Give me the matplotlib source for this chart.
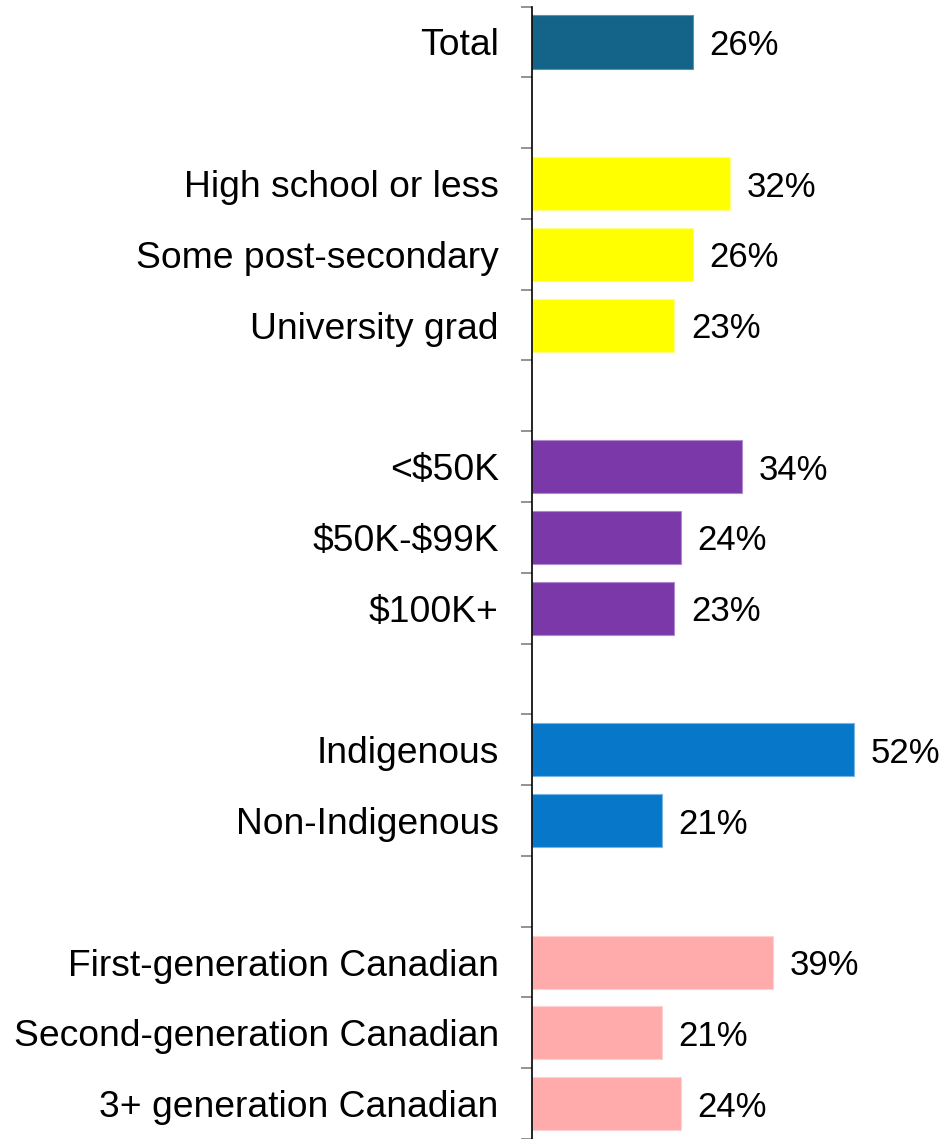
import matplotlib.pyplot as plt
import numpy as np

plt.rcParams['font.family'] = ['Liberation Sans', 'DejaVu Sans']
plt.rcParams['text.parse_math'] = False

# Data (None = blank gap row between groups)
labels = ['Total', None,
          'High school or less', 'Some post-secondary', 'University grad', None,
          '<$50K', '$50K-$99K', '$100K+', None,
          'Indigenous', 'Non-Indigenous', None,
          'First-generation Canadian', 'Second-generation Canadian', '3+ generation Canadian']
values = [26, None,
          32, 26, 23, None,
          34, 24, 23, None,
          52, 21, None,
          39, 21, 24]
groups = ['total', None,
          'edu', 'edu', 'edu', None,
          'inc', 'inc', 'inc', None,
          'ind', 'ind', None,
          'gen', 'gen', 'gen']

group_colors = {'total': '#136488', 'edu': '#FFFF00', 'inc': '#7B38A8',
                'ind': '#0778C9', 'gen': '#FFABAB'}
edge_colors = {'total': '#5d93ad', 'edu': '#ffff80', 'inc': '#b08ad0',
               'ind': '#7ab4e3', 'gen': '#ffd0d0'}

fig = plt.figure(figsize=(9.51, 11.39), dpi=100)
ax = fig.add_axes([532 / 951, 0.0, 1 - 532 / 951, (1139 - 6.6) / 1139])

n = len(labels)
y = np.arange(n)
for i in range(n):
    if values[i] is None:
        continue
    ax.barh(y[i], values[i], height=0.75, color=group_colors[groups[i]],
            edgecolor=edge_colors[groups[i]], linewidth=0.8)
    ax.annotate(f'{values[i]}%', (values[i], y[i]), xytext=(12, 0),
                textcoords='offset points', ha='left', va='center_baseline',
                fontsize=25, color='black')

ax.set_ylim(n - 0.5, -0.5)
ax.set_xlim(0, (951 - 532) / 6.19)

# category labels at bar centers, tick marks at slot boundaries
ax.set_yticks([i for i in range(n) if labels[i] is not None])
ax.set_yticklabels([l for l in labels if l is not None], fontsize=26.8,
                   va='center_baseline')
ax.tick_params(axis='y', which='major', length=0, pad=24)
ax.set_yticks(np.arange(-0.5, n, 1.0), minor=True)
ax.tick_params(axis='y', which='minor', length=8, width=1.2, color='#808080', direction='out')

ax.set_xticks([])
for s in ['top', 'right', 'bottom']:
    ax.spines[s].set_visible(False)
ax.spines['left'].set_color('black')
ax.spines['left'].set_linewidth(1.2)

fig.savefig('out.png', dpi=100)
